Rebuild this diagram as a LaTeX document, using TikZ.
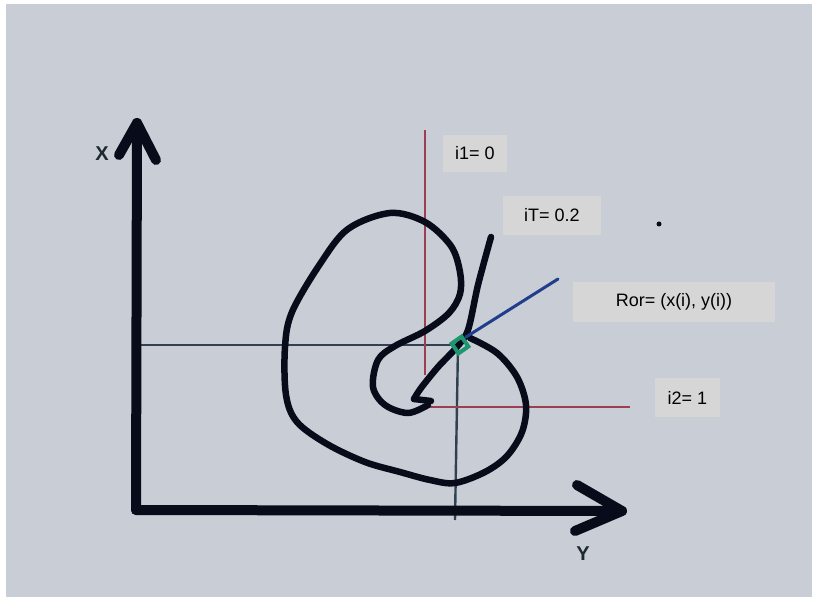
\documentclass[tikz,border=0pt]{standalone}
\usepackage{fontspec}
\setmainfont{Liberation Sans}
\usetikzlibrary{calc}
\definecolor{bg}{RGB}{201,205,213}
\definecolor{boxgray}{RGB}{214,214,215}
\definecolor{ink}{RGB}{8,12,26}
\definecolor{slate}{RGB}{48,66,82}
\definecolor{redline}{RGB}{158,62,82}
\definecolor{blueline}{RGB}{32,62,140}
\definecolor{greenmark}{RGB}{30,150,110}
\tikzset{
  axis/.style={draw=ink,line width=10pt,line cap=round,line join=round},
  guide/.style={draw=slate,line width=2.4pt},
  redguide/.style={draw=redline,line width=2pt},
  pen/.style={draw=ink,line width=6.5pt,line cap=round,line join=round},
  labelbox/.style={fill=boxgray,inner sep=0pt,font=\fontsize{18}{20}\selectfont,text=black},
  axlabel/.style={font=\fontsize{20}{22}\selectfont\bfseries,text=slate!60!black},
}
\begin{document}
\begin{tikzpicture}[x=1pt,y=-1pt]
\useasboundingbox (0,0) rectangle (817,601);
\fill[white] (0,0) rectangle (817,601);
\fill[bg] (6,4) rectangle (812,597);

% key coordinates
\coordinate (O) at (136,510);
\coordinate (Xtip) at (137,123);
\coordinate (Ytip) at (622,511);
\coordinate (P) at (458,345);
\coordinate (hL) at (137,345);
\coordinate (vB) at (455,520);
\coordinate (rT) at (425,130);
\coordinate (rB) at (425,375);
\coordinate (r2L) at (428,407);
\coordinate (r2R) at (630,407);
\coordinate (bS) at (466,337);
\coordinate (bE) at (558,279);

% guide lines
\draw[guide] (hL) -- (P);
\draw[guide] (P) -- (vB);
\draw[redguide] (rT) -- (rB);
\draw[redguide] (r2L) -- (r2R);

% axes
\draw[axis] (O) -- (Xtip);
\draw[axis] ($(Xtip)+(-18,32)$) -- (Xtip) -- ($(Xtip)+(19,37)$);
\draw[axis] (O) -- (Ytip);
\draw[axis] ($(Ytip)+(-45,-26)$) -- (Ytip) -- ($(Ytip)+(-47,20)$);

% main curve
\draw[pen] plot[smooth,tension=0.55] coordinates {
 (470,338) (497,353) (517,377) (526,405) (522,432) (507,456) (485,472)
 (455,483) (430,480) (400,472) (365,462) (327,444) (297,422) (286,395)
 (285,347) (292,312) (320,264) (348,229) (390,213) (425,222) (451,246)
 (460,272) (460,294) (449,313) (425,331) (395,346) (378,360) (373,387)
 (385,405) (408,413) (428,405)};
% tangent stroke with hook
\draw[pen] plot[smooth,tension=0.5] coordinates {
 (491,237) (478,285) (468,330) (456,348) (438,367) (421,388) (414,399)};
\draw[pen] (414,399) -- (431,401);

% blue and green marker
\draw[draw=blueline,line width=3pt,line cap=round] (bS) -- (bE);
\node[draw=greenmark,line width=4pt,rotate=35,minimum size=12pt,inner sep=0pt] (G) at (460,345) {};

% dot
\fill[ink] (659,224) circle (2.5);

% labels
\node[labelbox,minimum width=64pt,minimum height=37pt] (i1) at (475,153.5) {i1= 0};
\node[labelbox,minimum width=98pt,minimum height=39pt] (iT) at (552,215.5) {iT= 0.2};
\node[labelbox,minimum width=202pt,minimum height=40pt] (ror) at (674,302) {Ror= (x(i), y(i))};
\node[labelbox,minimum width=65pt,minimum height=39pt] (i2) at (687.5,397.5) {i2= 1};
\node[axlabel] (xl) at (102,154) {X};
\node[axlabel] (yl) at (583,554) {Y};
\end{tikzpicture}
\end{document}
